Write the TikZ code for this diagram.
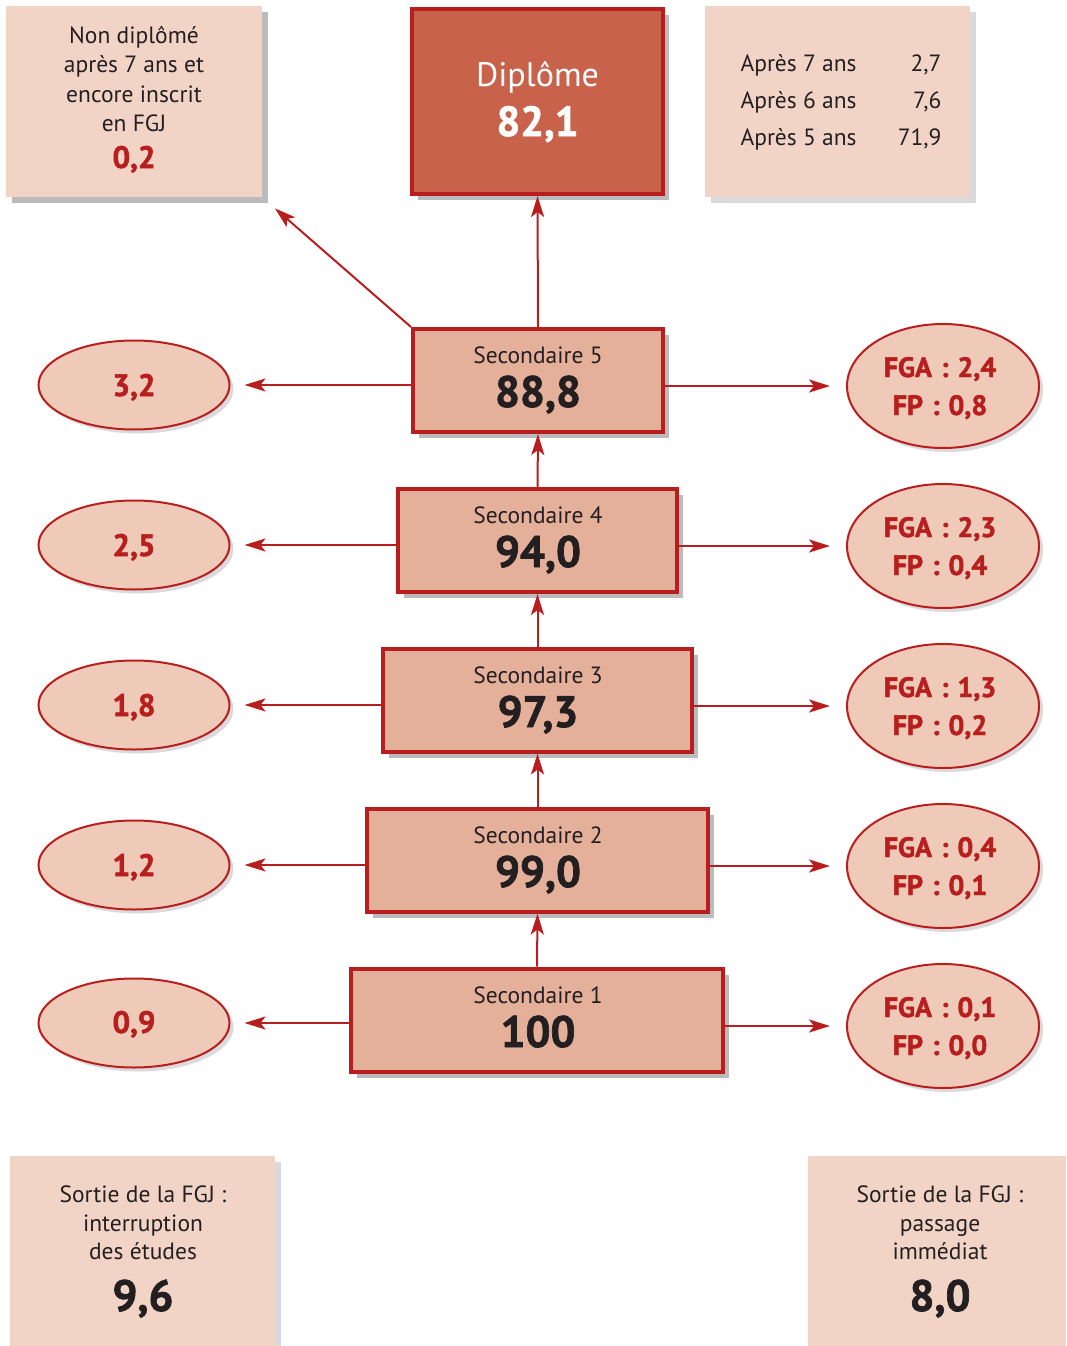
\documentclass[tikz,border=0pt]{standalone}
\usepackage{fontspec}
\setmainfont{PT Sans}
\newfontfamily\heavyfont[FakeBold=1.6]{PT Sans Bold}
\usetikzlibrary{arrows.meta,shapes.geometric}
\definecolor{redb}{HTML}{B81E1E}
\definecolor{dipfill}{HTML}{C8624A}
\definecolor{secfill}{HTML}{E5B09A}
\definecolor{ellfill}{HTML}{EFCAB8}
\definecolor{lightfill}{HTML}{F2D4C7}
\definecolor{shad}{HTML}{BBBBBE}
\definecolor{shadl}{HTML}{DADADC}
\definecolor{txt}{HTML}{231F20}
\newcommand{\cln}{\hspace{0.32em}:\hspace{0.32em}}
\begin{document}
\begin{tikzpicture}[x=1pt,y=-1pt,
  dropsh/.style={preaction={fill=#1, transform canvas={xshift=6pt,yshift=-6pt}}},
  dropsh/.default=shad,
  dropsm/.style={preaction={fill=shadl, transform canvas={xshift=4pt,yshift=-4pt}}},
  secbox/.style={rectangle, draw=redb, line width=4pt, fill=secfill, inner sep=0pt, minimum height=103pt, dropsh},
  dipbox/.style={rectangle, draw=redb, line width=4pt, fill=dipfill, inner sep=0pt, dropsh},
  lightbox/.style={rectangle, fill=lightfill, inner sep=0pt},
  lell/.style={ellipse, draw=redb, line width=2pt, fill=ellfill, inner sep=0pt, minimum width=191pt, minimum height=89pt, dropsm},
  rell/.style={ellipse, draw=redb, line width=2pt, fill=ellfill, inner sep=0pt, minimum width=192pt, minimum height=124pt, dropsm},
  arr/.style={draw=redb, line width=2pt, -{Stealth[length=21pt,width=13pt,inset=5pt]}},
  lab/.style={anchor=base, text=txt, font=\fontsize{23.5}{27}\selectfont},
  big/.style={anchor=base, text=txt, font=\fontsize{44}{50}\heavyfont},
  redn/.style={anchor=base, text=redb, font=\fontsize{31}{36}\heavyfont},
  redr/.style={anchor=base, text=redb, font=\fontsize{28}{32}\heavyfont},
]
\useasboundingbox (0,0) rectangle (1066,1346);

% top boxes
\node[lightbox, dropsh, minimum width=256pt, minimum height=191pt] (ng) at (134,101.5) {};
\node[dipbox, minimum width=251pt, minimum height=185pt] (dip) at (537.5,101.5) {};
\node[lightbox, dropsh=shadl, minimum width=265pt, minimum height=191pt] (tr) at (837.5,101.5) {};

\node[lab] (ng1) at (134,44) {Non diplômé};
\node[lab] (ng2) at (134,73) {après 7 ans et};
\node[lab] (ng3) at (134,102) {encore inscrit};
\node[lab] (ng4) at (134,131) {en FGJ};
\node[redn] (ngv) at (134,168) {0,2};

\node[anchor=base, text=white, font=\fontsize{34}{40}\selectfont] (dipt) at (537.5,86) {Diplôme};
\node[anchor=base, text=white, font=\fontsize{42}{48}\heavyfont] (dipv) at (537.5,136) {82,1};

\node[lab, anchor=base west] (tr1) at (737,71) {Après 7 ans};
\node[lab, anchor=base east] (tr1v) at (945,71) {2,7};
\node[lab, anchor=base west] (tr2) at (737,108) {Après 6 ans};
\node[lab, anchor=base east] (tr2v) at (945,108) {7,6};
\node[lab, anchor=base west] (tr3) at (737,145) {Après 5 ans};
\node[lab, anchor=base east] (tr3v) at (945,145) {71,9};

% secondaire boxes
\node[secbox, minimum width=250pt] (s5) at (538,380.5) {};
\node[secbox, minimum width=279pt] (s4) at (537.5,540.5) {};
\node[secbox, minimum width=309pt] (s3) at (537.5,700) {};
\node[secbox, minimum width=341pt] (s2) at (537.5,860) {};
\node[secbox, minimum width=372pt] (s1) at (537,1020) {};

\node[lab] (s5t) at (538,363) {Secondaire 5};
\node[big] (s5v) at (538,407) {88,8};
\node[lab] (s4t) at (538,523) {Secondaire 4};
\node[big] (s4v) at (538,567) {94,0};
\node[lab] (s3t) at (538,683) {Secondaire 3};
\node[big] (s3v) at (538,727) {97,3};
\node[lab] (s2t) at (538,843) {Secondaire 2};
\node[big] (s2v) at (538,887) {99,0};
\node[lab] (s1t) at (538,1003) {Secondaire 1};
\node[big] (s1v) at (538,1047) {100};

% left ellipses
\node[lell] (l5) at (134,385) {};
\node[lell] (l4) at (134,545) {};
\node[lell] (l3) at (134,705) {};
\node[lell] (l2) at (134,865) {};
\node[lell] (l1) at (134,1023) {};
\node[redn] (l5t) at (134,396) {3,2};
\node[redn] (l4t) at (134,556) {2,5};
\node[redn] (l3t) at (134,716) {1,8};
\node[redn] (l2t) at (134,876) {1,2};
\node[redn] (l1t) at (134,1033) {0,9};

% right ellipses
\node[rell] (r5) at (943,386) {};
\node[rell] (r4) at (943,546) {};
\node[rell] (r3) at (943,706) {};
\node[rell] (r2) at (943,866) {};
\node[rell] (r1) at (943,1026) {};
\node[redr] (r5a) at (940,377) {FGA\cln 2,4};
\node[redr] (r5b) at (940,415) {FP\cln 0,8};
\node[redr] (r4a) at (940,537) {FGA\cln 2,3};
\node[redr] (r4b) at (940,575) {FP\cln 0,4};
\node[redr] (r3a) at (940,697) {FGA\cln 1,3};
\node[redr] (r3b) at (940,735) {FP\cln 0,2};
\node[redr] (r2a) at (940,857) {FGA\cln 0,4};
\node[redr] (r2b) at (940,895) {FP\cln 0,1};
\node[redr] (r1a) at (940,1017) {FGA\cln 0,1};
\node[redr] (r1b) at (940,1055) {FP\cln 0,0};

% bottom boxes
\node[lightbox, dropsh=shadl, minimum width=265pt, minimum height=190pt] (sq) at (142.5,1251) {};
\node[lightbox, minimum width=258pt, minimum height=190pt] (sp) at (937,1251) {};
\node[lab] (sq1) at (143,1202) {Sortie de la FGJ :};
\node[lab] (sq2) at (143,1231) {interruption};
\node[lab] (sq3) at (143,1259) {des études};
\node[big] (sqv) at (143,1311) {9,6};
\node[lab] (sp1) at (940,1202) {Sortie de la FGJ :};
\node[lab] (sp2) at (940,1231) {passage};
\node[lab] (sp3) at (940,1259) {immédiat};
\node[big] (spv) at (940,1311) {8,0};

% arrows
\draw[arr] (s5.north) -- (dip.south);
\draw[arr, shorten >=17pt] (s5.north west) -- (ng.south east);
\draw[arr] (s4.north) -- (s5.south);
\draw[arr] (s3.north) -- (s4.south);
\draw[arr] (s2.north) -- (s3.south);
\draw[arr] (s1.north) -- (s2.south);
\draw[arr, shorten >=14pt] (s5.west |- l5.east) -- (l5.east);
\draw[arr, shorten >=14pt] (s4.west |- l4.east) -- (l4.east);
\draw[arr, shorten >=14pt] (s3.west |- l3.east) -- (l3.east);
\draw[arr, shorten >=14pt] (s2.west |- l2.east) -- (l2.east);
\draw[arr, shorten >=14pt] (s1.west |- l1.east) -- (l1.east);
\draw[arr, shorten >=16pt] (s5.east |- r5.west) -- (r5.west);
\draw[arr, shorten >=16pt] (s4.east |- r4.west) -- (r4.west);
\draw[arr, shorten >=16pt] (s3.east |- r3.west) -- (r3.west);
\draw[arr, shorten >=16pt] (s2.east |- r2.west) -- (r2.west);
\draw[arr, shorten >=16pt] (s1.east |- r1.west) -- (r1.west);
\end{tikzpicture}
\end{document}
